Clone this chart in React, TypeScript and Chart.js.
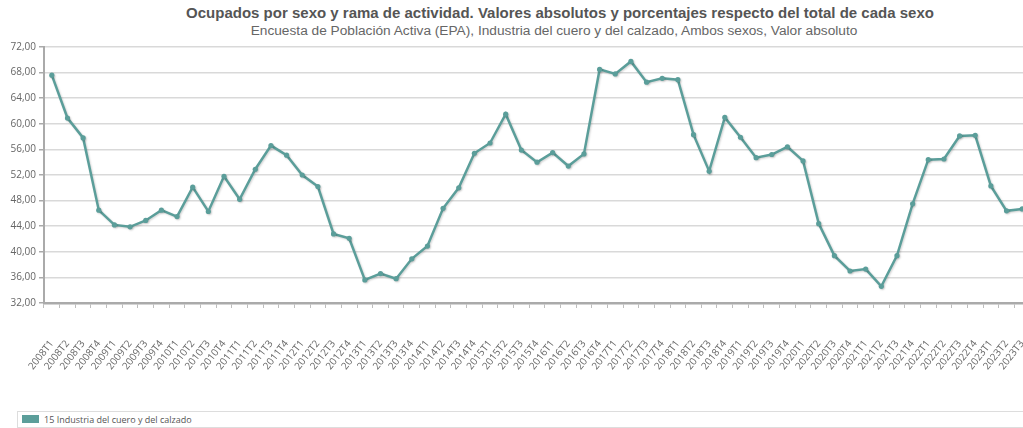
import React, { useEffect, useRef } from "react";
import { Chart, registerables } from "chart.js";

Chart.register(...registerables);

const TITLE = "Ocupados por sexo y rama de actividad. Valores absolutos y porcentajes respecto del total de cada sexo";
const SUBTITLE = "Encuesta de Población Activa (EPA), Industria del cuero y del calzado, Ambos sexos, Valor absoluto";
const SERIES_NAME = "15 Industria del cuero y del calzado";

const YEARS = ["2008", "2009", "2010", "2011", "2012", "2013", "2014", "2015", "2016", "2017", "2018", "2019", "2020", "2021", "2022", "2023"];
const QUARTERS = ["T1", "T2", "T3", "T4"];
const LAST_LABEL = "2023T3";

const LABELS: string[] = [];
for (const y of YEARS) {
  for (const q of QUARTERS) {
    LABELS.push(y + q);
  }
}
LABELS.splice(LABELS.indexOf(LAST_LABEL) + 1);

const VALUES = [
  67.6, 60.9, 57.8, 46.5,
  44.2, 43.9, 44.9, 46.5,
  45.5, 50.1, 46.3, 51.8,
  48.2, 52.9, 56.6, 55.1,
  52.0, 50.2, 42.8, 42.1,
  35.6, 36.6, 35.8, 38.9,
  40.9, 46.8, 50.0, 55.4,
  57.0, 61.5, 55.9, 54.0,
  55.5, 53.4, 55.3, 68.5,
  67.8, 69.75, 66.5, 67.1,
  66.9, 58.3, 52.6, 61.0,
  57.9, 54.7, 55.2, 56.4,
  54.2, 44.4, 39.4, 37.0,
  37.3, 34.6, 39.4, 47.5,
  54.4, 54.5, 58.1, 58.2,
  50.3, 46.4, 46.7,
];

const Y_MIN = 32;
const Y_MAX = 72;
const Y_STEP = 4;

const LINE_COLOR = "#5b9e9a";
const W = 1040;
const H = 395;

const shadowPlugin = {
  id: "lineShadow",
  beforeDatasetDraw(chart: any) {
    const ctx = chart.ctx;
    ctx.save();
    ctx.shadowColor = "rgba(0,0,0,0.18)";
    ctx.shadowBlur = 2;
    ctx.shadowOffsetX = 1;
    ctx.shadowOffsetY = 1;
  },
  afterDatasetDraw(chart: any) {
    chart.ctx.restore();
  },
};

export default function App() {
  const ref = useRef<HTMLCanvasElement | null>(null);

  useEffect(() => {
    if (!ref.current) return;
    const chart = new Chart(ref.current, {
      type: "line",
      data: {
        labels: LABELS,
        datasets: [
          {
            label: SERIES_NAME,
            data: VALUES,
            borderColor: LINE_COLOR,
            backgroundColor: LINE_COLOR,
            borderWidth: 2.5,
            pointRadius: 2.6,
            pointBackgroundColor: LINE_COLOR,
            pointBorderWidth: 0,
            tension: 0,
          },
        ],
      },
      options: {
        animation: false,
        responsive: false,
        devicePixelRatio: 1,
        layout: { padding: { top: 47, right: 10, left: 0, bottom: 0 } },
        plugins: {
          legend: { display: false },
          title: { display: false },
          tooltip: { enabled: false },
        },
        scales: {
          x: {
            type: "category",
            offset: true,
            afterFit(scale: any) {
              scale.height = H - 303;
              scale.paddingLeft = 0;
              scale.paddingRight = 0;
            },
            grid: {
              drawOnChartArea: false,
              offset: true,
              drawTicks: true,
              tickLength: 5,
              tickColor: "#bdbdbd",
              tickWidth: 1,
            },
            border: { color: "#aaaaaa", width: 2.5 },
            ticks: {
              autoSkip: false,
              minRotation: 52,
              maxRotation: 52,
              padding: 30,
              color: "#666666",
              font: { family: "'Open Sans'", size: 10 },
            },
          },
          y: {
            min: Y_MIN,
            max: Y_MAX,
            afterFit(scale: any) {
              scale.width = 44;
            },
            grid: {
              color: "#d9d9d9",
              lineWidth: 1.5,
              drawTicks: true,
              tickLength: 5,
              tickColor: "#aaaaaa",
            },
            border: { color: "#aaaaaa", width: 2 },
            ticks: {
              stepSize: Y_STEP,
              padding: 3,
              color: "#666666",
              font: { family: "'Open Sans'", size: 10 },
              callback: (v: any) => Number(v).toFixed(2).replace(".", ","),
            },
          },
        },
      },
      plugins: [shadowPlugin],
    });
    return () => chart.destroy();
  }, []);

  return (
    <div
      style={{
        position: "absolute",
        left: 0,
        top: 0,
        width: 1023,
        height: 428,
        overflow: "hidden",
        background: "#fff",
      }}
    >
      <div
        style={{
          position: "absolute",
          left: 0,
          width: 1120,
          top: 4,
          textAlign: "center",
          fontFamily: "'Liberation Sans', Arial, sans-serif",
          fontWeight: "bold",
          fontSize: 15,
          lineHeight: "18px",
          color: "#555555",
          whiteSpace: "nowrap",
        }}
      >
        {TITLE}
      </div>
      <div
        style={{
          position: "absolute",
          left: 0,
          width: 1108,
          top: 22,
          textAlign: "center",
          fontFamily: "'Liberation Sans', Arial, sans-serif",
          fontSize: 13.7,
          lineHeight: "18px",
          color: "#666666",
          whiteSpace: "nowrap",
        }}
      >
        {SUBTITLE}
      </div>
      <canvas
        ref={ref}
        width={W}
        height={H}
        style={{ position: "absolute", left: 0, top: 0, width: W, height: H }}
      />
      <div
        style={{
          position: "absolute",
          left: 17,
          top: 411,
          width: 1100,
          height: 15,
          border: "1px solid #dddddd",
          background: "#fff",
        }}
      >
        <div
          style={{
            position: "absolute",
            left: 4,
            top: 3,
            width: 17,
            height: 8,
            background: LINE_COLOR,
          }}
        />
        <div
          style={{
            position: "absolute",
            left: 26,
            top: 0,
            fontFamily: "'Open Sans', sans-serif",
            fontSize: 9,
            lineHeight: "15px",
            color: "#555555",
            whiteSpace: "nowrap",
          }}
        >
          {SERIES_NAME}
        </div>
      </div>
    </div>
  );
}
